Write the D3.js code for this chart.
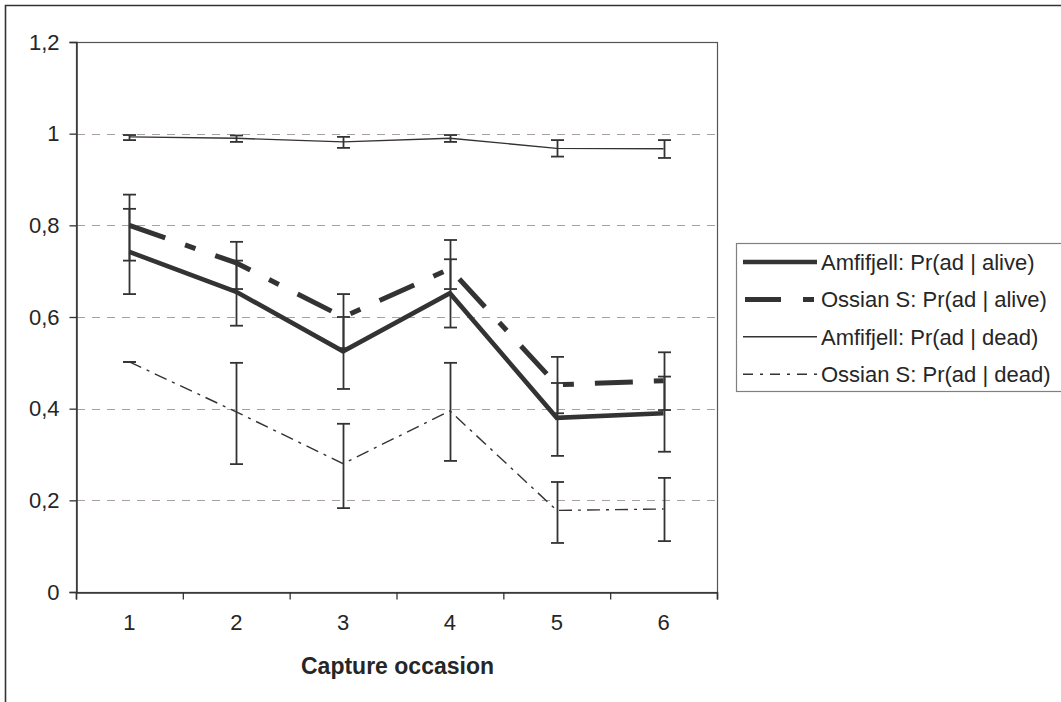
<!DOCTYPE html>
<html>
<head>
<meta charset="utf-8">
<script src="https://cdn.jsdelivr.net/npm/d3@7"></script>
<style>
  html, body { margin: 0; padding: 0; background: #fff; }
  svg { display: block; font-family: "Liberation Sans", Arial, sans-serif; }
</style>
</head>
<body>
<svg id="chart" width="1061" height="702"></svg>
<script>
// ---- Data ----
const categories = [1, 2, 3, 4, 5, 6];
const yTicks = [0, 0.2, 0.4, 0.6, 0.8, 1.0, 1.2];
const gridTicks = [0.2, 0.4, 0.6, 0.8, 1.0];

const amfiAlive    = [0.742, 0.655, 0.525, 0.652, 0.380, 0.390];
const amfiAliveLo  = [0.650, 0.581, 0.443, 0.577, 0.297, 0.306];
const amfiAliveHi  = [0.836, 0.723, 0.600, 0.726, 0.456, 0.470];

const ossianAlive   = [0.800, 0.718, 0.600, 0.705, 0.452, 0.461];
const ossianAliveLo = [0.723, 0.661, 0.532, 0.661, 0.390, 0.397];
const ossianAliveHi = [0.867, 0.764, 0.650, 0.768, 0.513, 0.523];

const amfiDead    = [0.993, 0.990, 0.982, 0.990, 0.968, 0.967];
const amfiDeadLo  = [0.986, 0.982, 0.969, 0.982, 0.950, 0.947];
const amfiDeadHi  = [0.997, 0.996, 0.993, 0.997, 0.986, 0.986];

const ossianDead   = [0.502, 0.393, 0.280, 0.395, 0.178, 0.181];
const ossianDeadLo = [0.502, 0.279, 0.183, 0.286, 0.107, 0.111];
const ossianDeadHi = [0.502, 0.500, 0.367, 0.500, 0.240, 0.249];

const seriesNames = [
  "Amfifjell: Pr(ad | alive)",
  "Ossian S: Pr(ad | alive)",
  "Amfifjell: Pr(ad | dead)",
  "Ossian S: Pr(ad | dead)"
];
const xTitle = "Capture occasion";

// ---- Build series table ----
const styles = [
  { width: 4.6, dash: null },
  { width: 5, dash: "38,21,11,21" },
  { width: 1.4, dash: null },
  { width: 1.4, dash: "13,6,3,6" }
];
const series = [
  { name: seriesNames[0], v: amfiAlive,   lo: amfiAliveLo,   hi: amfiAliveHi },
  { name: seriesNames[1], v: ossianAlive, lo: ossianAliveLo, hi: ossianAliveHi },
  { name: seriesNames[2], v: amfiDead,    lo: amfiDeadLo,    hi: amfiDeadHi },
  { name: seriesNames[3], v: ossianDead,  lo: ossianDeadLo,  hi: ossianDeadHi }
].map((s, i) => Object.assign(s, styles[i]));

// ---- Layout ----
const svg = d3.select("#chart");
const P = { left: 76, top: 42, right: 717, bottom: 592 };
const ink = "#333";
const textCol = "#262626";

const x = d3.scaleBand().domain(categories).range([P.left, P.right]).padding(0);
const xEdges = d3.scaleLinear().domain([0, categories.length]).range([P.left, P.right]);
const y = d3.scaleLinear().domain([0, 1.2]).range([P.bottom, P.top]);
const cx = c => x(c) + x.bandwidth() / 2;

// outer chart border (only top & left visible in the crop)
svg.append("path")
  .attr("d", `M5.5,702 V5.5 H1061`)
  .attr("fill", "none").attr("stroke", ink).attr("stroke-width", 1.6);

// plot frame
svg.append("rect")
  .attr("x", P.left + 0.5).attr("y", P.top + 0.5)
  .attr("width", P.right - P.left).attr("height", P.bottom - P.top)
  .attr("fill", "none").attr("stroke", "#555").attr("stroke-width", 1.2);

// gridlines
svg.append("g").selectAll("line").data(gridTicks).join("line")
  .attr("x1", P.left + 1).attr("x2", P.right - 1)
  .attr("y1", d => Math.round(y(d)) + 0.5).attr("y2", d => Math.round(y(d)) + 0.5)
  .attr("stroke", "#a9a0a0").attr("stroke-width", 1)
  .attr("stroke-dasharray", "8,7");

// y axis
const yAxis = svg.append("g")
  .attr("transform", `translate(${P.left + 0.5},0)`)
  .call(d3.axisLeft(y).tickValues(yTicks).tickSize(7).tickPadding(10)
    .tickFormat(d => String(+d.toFixed(1)).replace(".", ",")));
yAxis.select(".domain").attr("stroke", ink).attr("stroke-width", 1.5);
yAxis.selectAll(".tick line").attr("stroke", ink).attr("stroke-width", 1.3);
yAxis.selectAll("text").attr("font-size", 22).attr("fill", textCol)
  .attr("font-family", "'Liberation Sans', Arial, sans-serif");

// x axis: ticks at band edges
const xAxisEdges = svg.append("g")
  .attr("transform", `translate(0,${P.bottom + 0.5})`)
  .call(d3.axisBottom(xEdges).tickValues(d3.range(0, categories.length + 1)).tickSize(7).tickFormat(""));
xAxisEdges.select(".domain").attr("stroke", ink).attr("stroke-width", 1.5);
xAxisEdges.selectAll(".tick line").attr("stroke", ink).attr("stroke-width", 1.3);

// x axis labels at band centres
const xAxisLabels = svg.append("g")
  .attr("transform", `translate(0,${P.bottom})`)
  .call(d3.axisBottom(x).tickSize(0).tickPadding(22));
xAxisLabels.select(".domain").remove();
xAxisLabels.selectAll("text").attr("font-size", 22).attr("fill", textCol)
  .attr("font-family", "'Liberation Sans', Arial, sans-serif");

// x title
svg.append("text")
  .attr("x", (P.left + P.right) / 2 + 1).attr("y", 674)
  .attr("text-anchor", "middle").attr("font-size", 23).attr("font-weight", "bold")
  .attr("fill", textCol).text(xTitle);

// lines
const line = d3.line().x((d, i) => cx(categories[i])).y(d => y(d));
const gLines = svg.append("g");
series.forEach(s => {
  gLines.append("path")
    .attr("d", line(s.v))
    .attr("fill", "none").attr("stroke", ink)
    .attr("stroke-width", s.width)
    .attr("stroke-linejoin", "miter")
    .attr("stroke-dasharray", s.dash);
});

// error bars
const gErr = svg.append("g").attr("stroke", ink).attr("stroke-width", 1.8).attr("fill", "none");
const capW = 6.5;
series.forEach(s => {
  categories.forEach((c, i) => {
    const xc = Math.round(cx(c)) + 0.5;
    gErr.append("line").attr("x1", xc).attr("x2", xc).attr("y1", y(s.lo[i])).attr("y2", y(s.hi[i]));
    gErr.append("line").attr("x1", xc - capW).attr("x2", xc + capW).attr("y1", y(s.hi[i])).attr("y2", y(s.hi[i]));
    gErr.append("line").attr("x1", xc - capW).attr("x2", xc + capW).attr("y1", y(s.lo[i])).attr("y2", y(s.lo[i]));
  });
});

// legend
const L = { x: 736, y: 243, w: 340, h: 148, rowY0: 262, rowH: 37.4, lx1: 743, lx2: 817, tx: 821 };
svg.append("rect")
  .attr("x", L.x + 0.5).attr("y", L.y + 0.5).attr("width", L.w).attr("height", L.h)
  .attr("fill", "#fff").attr("stroke", "#808080").attr("stroke-width", 1.2);
const leg = svg.append("g").selectAll("g").data(series).join("g")
  .attr("transform", (d, i) => `translate(0,${L.rowY0 + i * L.rowH})`);
leg.append("line")
  .attr("x1", L.lx1).attr("x2", L.lx2).attr("y1", 0).attr("y2", 0)
  .attr("stroke", ink).attr("stroke-width", d => d.width)
  .attr("stroke-dasharray", (d, i) => i === 1 ? "36,22,11,22" : (i === 3 ? "10,7,3,7" : null))
  .attr("stroke-dashoffset", (d, i) => i === 1 ? -2 : 0);
leg.append("text")
  .attr("x", L.tx).attr("y", 0).attr("dy", "0.36em")
  .attr("font-size", 22).attr("fill", textCol)
  .text(d => d.name);
</script>
</body>
</html>
